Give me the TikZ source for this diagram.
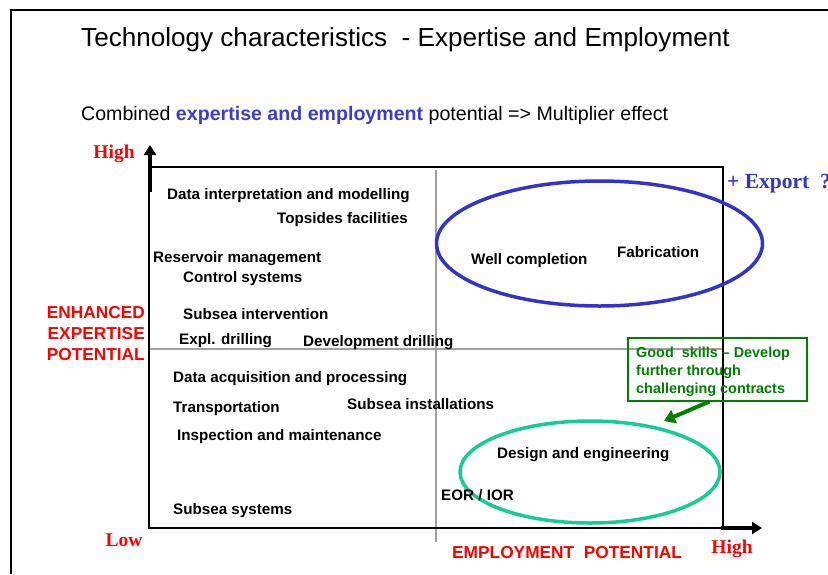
\documentclass[tikz,border=0pt]{standalone}
\usepackage{fontspec}
\setmainfont{Liberation Sans}
\newfontfamily\timesb{Liberation Serif}
\usetikzlibrary{arrows.meta,shapes.geometric}
\definecolor{myblue}{RGB}{51,51,204}
\definecolor{txtblue}{RGB}{60,60,205}
\definecolor{myteal}{RGB}{20,204,150}
\definecolor{mygreen}{RGB}{0,128,0}
\definecolor{mygray}{RGB}{160,160,160}
\definecolor{myred}{RGB}{255,0,0}
\begin{document}
\begin{tikzpicture}[x=1pt,y=-1pt,
  item/.style={anchor=west,inner sep=0pt,yshift=-2.5pt,font=\fontsize{15.2}{17}\selectfont\bfseries},
  redlab/.style={inner sep=0pt,yshift=-2pt,text=myred,font=\fontsize{17.3}{21}\selectfont\bfseries},
  serlab/.style={inner sep=0pt,yshift=-1pt,text=myred,font=\fontsize{19.5}{22}\selectfont\timesb\bfseries},
  frame/.style={line width=2pt},
  divider/.style={draw=mygray,line width=1.8pt},
  axisarrow/.style={line width=3.5pt,-{Triangle[length=10pt,width=12pt]}},
]
\useasboundingbox (0,0) rectangle (828,574);
% outer frame
\draw[frame] (11,574) -- (11,10) -- (828,10);
% titles
\node[anchor=west,inner sep=0pt,yshift=-3pt,font=\fontsize{26.1}{28}\selectfont] (title) at (81,37) {Technology characteristics\ \ - Expertise and Employment};
\node[anchor=west,inner sep=0pt,yshift=-3pt,font=\fontsize{19.6}{21}\selectfont] (sub) at (81,112) {Combined \textcolor{txtblue}{\bfseries expertise and employment} potential => Multiplier effect};
% dividers
\coordinate (vt) at (436,170);
\coordinate (vb) at (436,542);
\coordinate (hl) at (150,349);
\coordinate (hr) at (723,349);
\draw[divider] (vt) -- (vb);
\draw[divider] (hl) -- (hr);
% box
\coordinate (bl) at (149,528);
\coordinate (tl) at (149,167);
\coordinate (tr) at (723,167);
\coordinate (br) at (723,528);
\draw[frame] (bl) -- (tl) -- (tr) -- (br) -- cycle;
% axes arrows
\coordinate (ya) at (150,192);
\coordinate (yb) at (150,145);
\coordinate (xa) at (721,528);
\coordinate (xb) at (762,528);
\draw[axisarrow] (ya) -- (yb);
\draw[axisarrow] (xa) -- (xb);
% axis labels
\node[serlab] (high1) at (114,153) {High};
\node[serlab] (low) at (124,539) {Low};
\node[serlab] (high2) at (732,548) {High};
\node[redlab,align=right,anchor=east] (enh) at (145,332) {ENHANCED\\EXPERTISE\\POTENTIAL};
\node[redlab,anchor=west] (emp) at (452,551) {EMPLOYMENT\ \ POTENTIAL};
\node[inner sep=0pt,anchor=west,yshift=-1pt,text=myblue,font=\fontsize{21.5}{24}\selectfont\timesb\bfseries] (export) at (727,183) {+ Export\ \ ?};
% ellipses
\node[ellipse,draw=myblue,line width=3.5pt,minimum width=326pt,minimum height=125pt,inner sep=0pt] (blueell) at (599.5,243.5) {};
\node[ellipse,draw=myteal,line width=3.5pt,minimum width=260pt,minimum height=102pt,inner sep=0pt] (tealell) at (590,472) {};
% items
\node[item] (n1) at (167,193) {Data interpretation and modelling};
\node[item] (n2) at (277,217) {Topsides facilities};
\node[item] (n3) at (153,256) {Reservoir management};
\node[item] (n4) at (183,276) {Control systems};
\node[item] (n5) at (183,312) {Subsea intervention};
\node[item] (n6) at (179,338) {Expl. drilling};
\node[item] (n7) at (303,340) {Development drilling};
\node[item] (n8) at (471,258) {Well completion};
\node[item] (n9) at (617,250) {Fabrication};
\node[item] (n10) at (173,376) {Data acquisition and processing};
\node[item] (n11) at (173,406) {Transportation};
\node[item] (n12) at (347,402) {Subsea installations};
\node[item] (n13) at (177,434) {Inspection and maintenance};
\node[item] (n14) at (497,452) {Design and engineering};
\node[item] (n15) at (441,493) {EOR / IOR};
\node[item] (n16) at (173,508) {Subsea systems};
% green box
\node[draw=mygreen,line width=1.6pt,minimum width=179pt,minimum height=63pt,inner sep=0pt,anchor=north west] (gbox) at (627,337) {};
\node[text=mygreen,font=\fontsize{14.4}{18}\selectfont\bfseries,align=left,anchor=west,inner sep=0pt,yshift=-2pt] (gtext) at (636,370)
  {Good\ \ skills -- Develop\\further through\\challenging contracts};
\coordinate (gtip) at (664,421);
\draw[mygreen,line width=4pt,-{Triangle[length=11pt,width=14pt]}] ([xshift=-8pt]gbox.south) -- (gtip);
\end{tikzpicture}
\end{document}
